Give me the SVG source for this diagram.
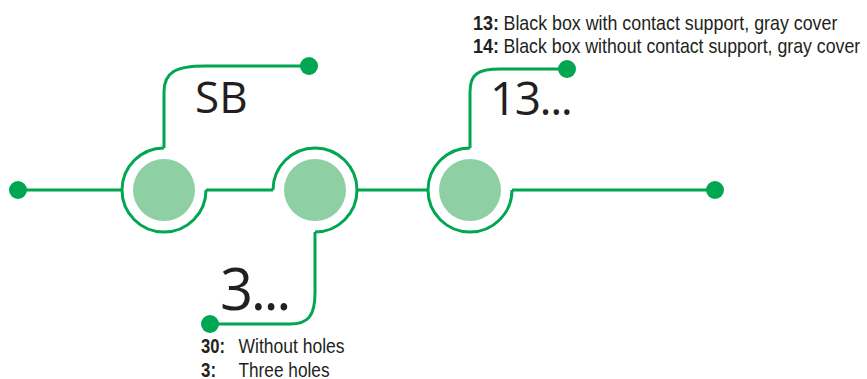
<svg xmlns="http://www.w3.org/2000/svg" width="867" height="379" viewBox="0 0 867 379">
<style>
.ln{fill:none;stroke:#00a651;stroke-width:3}
.fill{fill:#8ecfa3}
.dot{fill:#00a651}
.big{font-family:"Open Sans","Noto Sans",sans-serif;fill:#231f20}
.sm{font-family:"Liberation Sans",Arial,sans-serif;font-size:20px;fill:#231f20}
.b{font-weight:bold}
</style>
<rect width="867" height="379" fill="#ffffff"/>
<g id="connectors">
<path class="ln" d="M18,190 H122"/>
<path class="ln" d="M206,190 H273"/>
<path class="ln" d="M357,190 H428"/>
<path class="ln" d="M512,190 H715"/>
<path class="ln" d="M164,148 V92 C164,72 176,66 205,66 H309"/>
<path class="ln" d="M470,148 V92 C470,74 478,69 500,69 H567"/>
<path class="ln" d="M315,232 V293 C315,316 308,324 290,324 H210"/>
</g>
<g id="node-sb">
<path class="ln" d="M164,148 A42,42 0 1 0 206,190"/>
<circle class="fill" cx="164" cy="190" r="31"/>
<text class="big" x="195" y="113" font-size="44">SB</text>
</g>
<g id="node-3">
<path class="ln" d="M273,190 A42,42 0 1 1 315,232"/>
<circle class="fill" cx="315" cy="190" r="31"/>
<text class="big" x="220" y="310" font-size="58" letter-spacing="-2.5">3...</text>
</g>
<g id="node-13">
<path class="ln" d="M470,148 A42,42 0 1 0 512,190"/>
<circle class="fill" cx="470" cy="190" r="31"/>
<text class="big" x="490" y="115" font-size="46" letter-spacing="-1.5">13...</text>
</g>
<g id="end-left"><circle class="dot" cx="18" cy="190" r="9"/></g>
<g id="end-right"><circle class="dot" cx="715" cy="190" r="9"/></g>
<g id="end-sb"><circle class="dot" cx="309" cy="66" r="9"/></g>
<g id="end-13"><circle class="dot" cx="567" cy="69" r="9"/></g>
<g id="end-3"><circle class="dot" cx="210" cy="324" r="9"/></g>
<g id="legend-13">
<text class="sm b" x="473" y="29.5" textLength="26" lengthAdjust="spacingAndGlyphs">13:</text>
<text class="sm" transform="translate(503.5,29.5) scale(0.8916,1)">Black box with contact support, gray cover</text>
<text class="sm b" x="473" y="52.5" textLength="26" lengthAdjust="spacingAndGlyphs">14:</text>
<text class="sm" transform="translate(503.5,52.5) scale(0.887,1)">Black box without contact support, gray cover</text>
</g>
<g id="legend-3">
<text class="sm b" x="201" y="352.5" textLength="24" lengthAdjust="spacingAndGlyphs">30:</text>
<text class="sm" x="238.5" y="352.5" textLength="106" lengthAdjust="spacingAndGlyphs">Without holes</text>
<text class="sm b" x="201" y="376.5" textLength="15" lengthAdjust="spacingAndGlyphs">3:</text>
<text class="sm" x="238.5" y="376.5" textLength="91" lengthAdjust="spacingAndGlyphs">Three holes</text>
</g>
</svg>
